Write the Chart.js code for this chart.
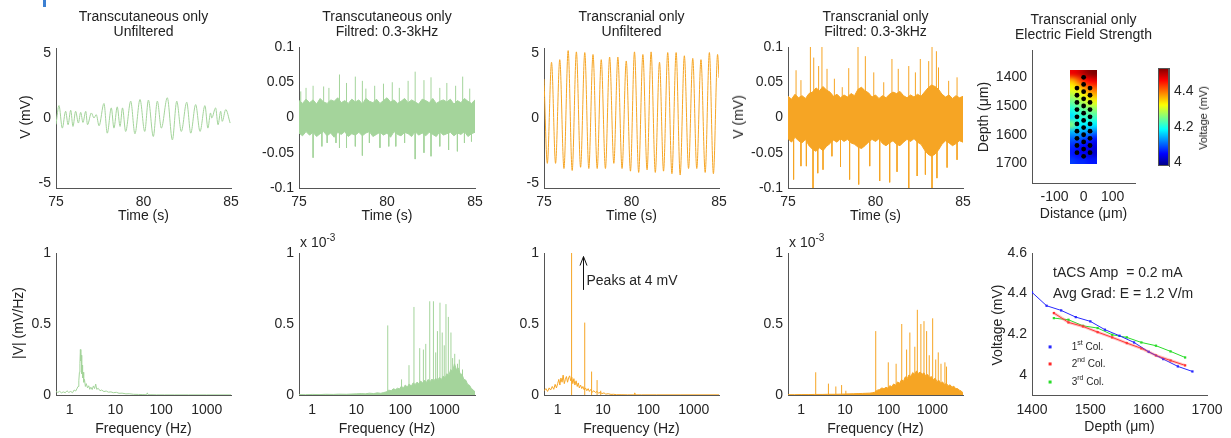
<!DOCTYPE html>
<html>
<head>
<meta charset="utf-8">
<script src="https://cdn.jsdelivr.net/npm/chart.js@4.4.1/dist/chart.umd.min.js"></script>
<style>
  body { margin: 0; background: #fff; width: 1231px; height: 438px; overflow: hidden; position: relative;
         font-family: "Liberation Sans", Arial, sans-serif; }
  canvas.layer { position: absolute; left: 0; top: 0; }
  .t { position: absolute; font-size: 14px; color: #222; white-space: nowrap; line-height: 16px;
       transform: translate(-50%, -50%); text-align: center; }
  .rot { transform: translate(-50%, -50%) rotate(-90deg); }
</style>
</head>
<body>
<div style="position:absolute;left:43px;top:0;width:3px;height:7px;background:#3c80d2"></div>
<script>
// ---------- top row: time series (s, mV) ----------
const tcRawT = [75.0, 75.17, 75.36, 75.55, 75.69, 75.84, 75.97, 76.12, 76.28, 76.41, 76.54, 76.70, 76.80, 77.02, 77.17, 77.30, 77.46, 77.74, 77.93, 78.16, 78.31, 78.50, 78.66, 78.80, 78.98, 79.27, 79.51, 79.80, 80.07, 80.28, 80.56, 80.79, 81.02, 81.36, 81.65, 81.90, 82.16, 82.47, 82.70, 82.98, 83.23, 83.51, 83.68, 83.83, 83.90, 84.12, 84.26, 84.41, 84.50, 84.70, 84.95];
const tcRawV = [-0.5, 0.96, -0.78, 0.52, -0.52, 0.60, -0.65, 0.52, -0.39, 0.44, -0.34, 0.52, -0.52, 0.39, 0.0, 0.26, -0.60, 1.12, -1.17, 0.78, -0.78, 0.86, -0.65, 0.78, -1.04, 1.30, -1.22, 1.43, -1.04, 1.38, -1.43, 1.30, -0.78, 1.56, -1.69, 1.30, -1.04, 1.22, -1.17, 1.04, -1.04, 0.96, -0.78, 0.39, 0.0, 0.78, -0.52, 0.52, -0.26, 0.65, -0.39];

const trRawT = [75.0, 75.19, 75.43, 75.66, 75.90, 76.14, 76.38, 76.61, 76.85, 77.09, 77.33, 77.56, 77.80, 78.04, 78.27, 78.51, 78.75, 78.99, 79.22, 79.46, 79.70, 79.94, 80.17, 80.41, 80.65, 80.89, 81.12, 81.36, 81.60, 81.83, 82.07, 82.31, 82.55, 82.78, 83.02, 83.26, 83.50, 83.73, 83.97, 84.21, 84.45, 84.68, 84.92, 85.0];
const trRawV = [3.0, -3.5, 4.3, -3.5, 4.5, -3.9, 5.2, -4.05, 5.1, -3.8, 5.05, -3.9, 4.9, -3.9, 4.5, -3.9, 4.7, -3.5, 4.7, -3.9, 4.4, -4.1, 5.1, -4.2, 4.9, -4.0, 5.1, -4.2, 4.3, -4.1, 5.05, -4.3, 5.05, -4.4, 4.8, -3.9, 4.6, -3.9, 4.5, -4.2, 5.05, -4.3, 4.9, 3.1];

const bandT = [75, 75.2, 75.4, 75.6, 75.8, 76, 76.2, 76.4, 76.6, 76.8, 77, 77.2, 77.4, 77.6, 77.8, 78, 78.2, 78.4, 78.6, 78.8, 79, 79.2, 79.4, 79.6, 79.8, 80, 80.2, 80.4, 80.6, 80.8, 81, 81.2, 81.4, 81.6, 81.8, 82, 82.2, 82.4, 82.6, 82.8, 83, 83.2, 83.4, 83.6, 83.8, 84, 84.2, 84.4, 84.6, 84.8, 85];

const tcFiltHi = [0.024, 0.02, 0.026, 0.021, 0.025, 0.019, 0.027, 0.022, 0.02, 0.025, 0.023, 0.028, 0.021, 0.024, 0.02, 0.026, 0.022, 0.025, 0.019, 0.027, 0.023, 0.021, 0.026, 0.02, 0.024, 0.028, 0.022, 0.025, 0.02, 0.023, 0.027, 0.021, 0.025, 0.022, 0.019, 0.026, 0.024, 0.021, 0.027, 0.02, 0.023, 0.025, 0.022, 0.026, 0.019, 0.024, 0.021, 0.027, 0.023, 0.02, 0.025];
const tcFiltLo = [-0.022, -0.026, -0.02, -0.025, -0.021, -0.027, -0.023, -0.02, -0.026, -0.022, -0.028, -0.021, -0.024, -0.02, -0.027, -0.023, -0.025, -0.021, -0.026, -0.022, -0.02, -0.027, -0.024, -0.021, -0.025, -0.022, -0.028, -0.02, -0.024, -0.026, -0.021, -0.023, -0.027, -0.02, -0.025, -0.022, -0.026, -0.021, -0.024, -0.027, -0.02, -0.025, -0.023, -0.021, -0.026, -0.022, -0.024, -0.02, -0.027, -0.023, -0.021];
const tcSpikeT = [75.1, 75.4, 75.8, 76.4, 76.7, 77.3, 77.7, 78.2, 78.6, 78.8, 79.3, 79.8, 80.3, 80.7, 81.2, 81.6, 82.1, 82.5, 83.0, 83.4, 83.9, 84.3, 84.7,
                  75.8, 76.3, 76.6, 77.1, 77.3, 77.7, 78.2, 78.6, 79.0, 79.6, 80.1, 80.5, 81.0, 81.6, 82.1, 82.5, 83.0, 83.5, 84.0, 84.4, 84.8];
const tcSpikeV = [0.037, 0.042, 0.045, 0.044, 0.042, 0.061, 0.049, 0.058, 0.052, 0.041, 0.045, 0.048, 0.05, 0.042, 0.052, 0.065, 0.053, 0.057, 0.042, 0.049, 0.045, 0.058, 0.041,
                  -0.057, -0.041, -0.036, -0.036, -0.043, -0.043, -0.041, -0.054, -0.036, -0.043, -0.041, -0.041, -0.036, -0.059, -0.05, -0.055, -0.041, -0.046, -0.048, -0.036, -0.034];

const trFiltHi = [0.03, 0.026, 0.033, 0.028, 0.031, 0.027, 0.034, 0.036, 0.042, 0.038, 0.044, 0.039, 0.036, 0.03, 0.033, 0.028, 0.032, 0.029, 0.034, 0.031, 0.04, 0.043, 0.038, 0.035, 0.029, 0.032, 0.027, 0.031, 0.028, 0.033, 0.036, 0.034, 0.037, 0.031, 0.028, 0.032, 0.029, 0.033, 0.03, 0.036, 0.042, 0.046, 0.044, 0.04, 0.033, 0.029, 0.032, 0.027, 0.031, 0.028, 0.03];
const trFiltLo = [-0.03, -0.035, -0.028, -0.033, -0.036, -0.031, -0.04, -0.045, -0.048, -0.043, -0.047, -0.041, -0.037, -0.032, -0.035, -0.03, -0.034, -0.031, -0.036, -0.038, -0.042, -0.044, -0.04, -0.035, -0.031, -0.034, -0.03, -0.037, -0.04, -0.036, -0.033, -0.038, -0.04, -0.035, -0.031, -0.034, -0.03, -0.035, -0.038, -0.046, -0.052, -0.055, -0.052, -0.046, -0.038, -0.033, -0.036, -0.04, -0.037, -0.033, -0.035];
const trSpikeT = [75.46, 75.74, 76.28, 76.47, 76.75, 76.94, 77.23, 77.65, 78.1, 78.47, 79.0, 79.42, 79.9, 80.47, 80.94, 81.3, 81.9, 82.28, 82.56, 83.04, 83.23, 83.48, 83.6, 84.18, 84.66,
                  75.32, 75.74, 76.05, 76.43, 76.7, 77.0, 77.51, 78.0, 78.52, 79.04, 79.67, 80.24, 80.81, 81.23, 81.9, 82.38, 82.85, 83.23, 83.51, 84.09, 84.66];
const trSpikeV = [0.067, 0.053, 0.1, 0.085, 0.073, 0.1, 0.069, 0.055, 0.043, 0.07, 0.1, 0.087, 0.064, 0.05, 0.083, 0.069, 0.073, 0.064, 0.083, 0.08, 0.1, 0.094, 0.071, 0.052, 0.057,
                  -0.088, -0.069, -0.069, -0.1, -0.079, -0.074, -0.055, -0.07, -0.088, -0.095, -0.069, -0.09, -0.092, -0.077, -0.1, -0.083, -0.081, -0.1, -0.086, -0.071, -0.06];

// ---------- bottom row: spectra (Hz, mV/Hz) ----------
const tcRawF = [0.5, 0.55, 0.6, 0.66, 0.72, 0.8, 0.87, 0.95, 1.05, 1.15, 1.25, 1.35, 1.45, 1.52, 1.58, 1.63, 1.67, 1.71, 1.75, 1.79, 1.83, 1.87, 1.91, 1.96, 2.02, 2.1, 2.2, 2.3, 2.45, 2.6, 2.75, 2.9, 3.1, 3.3, 3.5, 3.7, 3.9, 4.2, 4.6, 5.0, 5.6, 6.3, 7.0, 8.0, 9.0, 10.5, 12, 14, 17, 20, 25, 32, 40, 48, 50, 52, 60, 80, 120, 200, 400, 1000, 3400];
const tcRawA = [0.024, 0.018, 0.026, 0.015, 0.022, 0.016, 0.03, 0.018, 0.025, 0.016, 0.035, 0.028, 0.047, 0.06, 0.1, 0.16, 0.22, 0.32, 0.24, 0.28, 0.15, 0.21, 0.12, 0.16, 0.09, 0.11, 0.06, 0.08, 0.05, 0.065, 0.04, 0.055, 0.038, 0.064, 0.045, 0.077, 0.04, 0.047, 0.03, 0.035, 0.024, 0.028, 0.02, 0.022, 0.016, 0.019, 0.012, 0.013, 0.008, 0.009, 0.005, 0.004, 0.003, 0.002, 0.015, 0.002, 0.002, 0.001, 0.001, 0.001, 0.001, 0.001, 0.001];

const trRawF = [0.5, 0.55, 0.6, 0.65, 0.7, 0.76, 0.82, 0.88, 0.94, 1.0, 1.06, 1.12, 1.18, 1.25, 1.32, 1.4, 1.48, 1.56, 1.65, 1.74, 1.84, 1.94, 2.05, 2.16, 2.28, 2.4, 2.55, 2.7, 2.85, 3.0, 3.2, 3.4, 3.6, 3.85, 4.1, 4.4, 4.7, 5.0, 5.4, 5.8, 6.3, 6.8, 7.4, 8.0, 8.7, 9.5, 10.5, 11.5, 13, 15, 17, 20, 25, 35, 49, 50, 51, 70, 150, 500, 3600];
const trRawA = [0.03, 0.045, 0.025, 0.05, 0.035, 0.06, 0.04, 0.075, 0.05, 0.08, 0.11, 0.07, 0.12, 0.09, 0.14, 0.08, 0.11, 0.13, 0.09, 0.12, 0.135, 0.1, 0.125, 0.08, 0.115, 0.07, 0.1, 0.06, 0.085, 0.05, 0.07, 0.045, 0.06, 0.035, 0.05, 0.03, 0.045, 0.025, 0.04, 0.02, 0.03, 0.018, 0.025, 0.012, 0.02, 0.01, 0.015, 0.006, 0.009, 0.004, 0.005, 0.002, 0.002, 0.001, 0.001, 0.015, 0.001, 0.001, 0.001, 0.001, 0.001];
const trPeakF = [2.03, 3.95, 5.6, 7.4, 8.9];
const trPeakA = [4.0, 0.51, 0.165, 0.105, 0.03];

// filtered spectra, amplitude in units of 1e-3 mV/Hz
const filtF = [0.5, 0.7, 1, 1.5, 2, 3, 4, 6, 8, 10, 13, 16, 20, 25, 30, 36, 42, 48, 55, 62, 70, 78, 87, 96, 106, 118, 130, 145, 160, 178, 197, 218, 240, 265, 292, 322, 355, 392, 432, 477, 526, 580, 640, 706, 779, 859, 948, 1046, 1154, 1273, 1404, 1549, 1709, 1885, 2080, 2295, 2532, 2793, 3081, 3399, 3750, 4137, 4564, 5000];
const tcFiltA = [0.003, 0.002, 0.004, 0.003, 0.005, 0.004, 0.006, 0.005, 0.007, 0.008, 0.01, 0.008, 0.013, 0.01, 0.015, 0.012, 0.017, 0.022, 0.034, 0.03, 0.044, 0.038, 0.048, 0.042, 0.062, 0.05, 0.07, 0.056, 0.078, 0.062, 0.086, 0.074, 0.09, 0.08, 0.098, 0.085, 0.104, 0.088, 0.11, 0.094, 0.112, 0.098, 0.118, 0.102, 0.124, 0.108, 0.134, 0.12, 0.15, 0.135, 0.18, 0.165, 0.22, 0.18, 0.19, 0.15, 0.145, 0.11, 0.105, 0.075, 0.068, 0.045, 0.036, 0.02];
const tcLineF = [52, 107, 158, 205, 277, 336, 380, 468, 568, 700, 800, 900, 1095, 1240, 1420, 1730, 2200, 640, 1000, 1550, 2000, 2600];
const tcLineA = [0.49, 0.11, 0.21, 0.62, 0.33, 0.32, 0.36, 0.66, 0.66, 0.45, 0.65, 0.44, 0.64, 0.55, 0.44, 0.29, 0.25, 0.3, 0.35, 0.26, 0.22, 0.18];
const trFiltA = [0.002, 0.002, 0.003, 0.003, 0.004, 0.004, 0.005, 0.005, 0.006, 0.007, 0.008, 0.009, 0.01, 0.011, 0.012, 0.013, 0.015, 0.02, 0.034, 0.038, 0.05, 0.044, 0.054, 0.048, 0.066, 0.058, 0.078, 0.068, 0.092, 0.082, 0.108, 0.096, 0.128, 0.115, 0.142, 0.13, 0.158, 0.145, 0.17, 0.152, 0.162, 0.146, 0.156, 0.132, 0.145, 0.122, 0.13, 0.108, 0.118, 0.094, 0.104, 0.082, 0.092, 0.072, 0.082, 0.064, 0.072, 0.055, 0.062, 0.045, 0.045, 0.034, 0.028, 0.015];
const trLineF = [2.15, 4.2, 6.2, 8.4, 10.5, 50.6, 98, 148, 199, 257, 305, 396, 452, 545, 642, 737, 846, 1013, 1190, 1360, 1570, 1930, 2100];
const trLineA = [0.16, 0.08, 0.06, 0.07, 0.03, 0.45, 0.23, 0.22, 0.5, 0.32, 0.44, 0.34, 0.6, 0.5, 0.52, 0.45, 0.28, 0.54, 0.25, 0.3, 0.22, 0.23, 0.2];

// ---------- electric field ----------
const depthMid = [1400, 1425, 1450, 1475, 1500, 1525, 1550, 1575, 1600, 1625, 1650, 1675];
const depthSide = [1437.5, 1462.5, 1487.5, 1512.5, 1537.5, 1562.5, 1587.5, 1612.5, 1637.5, 1662.5];
const voltCol1 = [4.406, 4.34, 4.317, 4.284, 4.263, 4.222, 4.192, 4.159, 4.113, 4.077, 4.041, 4.016];
const voltCol2 = [4.304, 4.258, 4.238, 4.21, 4.184, 4.156, 4.13, 4.095, 4.07, 4.046];
const voltCol3 = [4.279, 4.271, 4.241, 4.23, 4.197, 4.184, 4.159, 4.143, 4.115, 4.085];
const elecX = [-23, 0, 22];
const fieldX = [-48, 47];
const fieldY = [1375, 1703];
const fieldGrid = [
  [4.47, 4.48, 4.50, 4.52, 4.53],
  [4.36, 4.40, 4.44, 4.46, 4.47],
  [4.32, 4.34, 4.37, 4.40, 4.41],
  [4.28, 4.30, 4.32, 4.35, 4.36],
  [4.24, 4.26, 4.28, 4.30, 4.31],
  [4.20, 4.22, 4.24, 4.25, 4.26],
  [4.17, 4.20, 4.21, 4.22, 4.22],
  [4.26, 4.19, 4.18, 4.18, 4.18],
  [4.15, 4.15, 4.14, 4.13, 4.12],
  [4.10, 4.10, 4.09, 4.07, 4.06],
  [4.07, 4.06, 4.05, 4.04, 4.03],
  [4.06, 4.05, 4.04, 4.03, 4.02],
  [4.08, 4.07, 4.07, 4.06, 4.06]
];
const cbRange = [3.98, 4.53];

// ---------- ticks ----------
const timeTicks = [75, 80, 85];
const mvTicks = [-5, 0, 5];
const filtTicks = [-0.1, -0.05, 0, 0.05, 0.1];
const freqTicks = [1, 10, 100, 1000];
const ampTicks = [0, 0.5, 1];
const distTicks = [-100, 0, 100];
const depthTicks = [1400, 1500, 1600, 1700];
const cbTicks = [4, 4.2, 4.4];
const voltTicks = [4, 4.2, 4.4, 4.6];

// ---------- helpers ----------
const W = 1231, H = 438, AXW = 40, AXH = 30;
const FAM = '"Liberation Sans", Arial, sans-serif';
const FONT = { family: FAM, size: 14 };
const INK = '#262626', AXIS = '#555';
const GREEN = '#a4d49b', ORANGE = '#f6a524';

function layer() {
  const c = document.createElement('canvas');
  c.width = W; c.height = H; c.className = 'layer';
  document.body.appendChild(c);
  return c;
}

function axis(type, min, max, ticks, extra, pad) {
  return Object.assign({
    type, min, max,
    grid: { display: false, drawTicks: false },
    border: { display: true, color: AXIS, width: 1 },
    ticks: { font: FONT, color: INK, padding: pad || 5, autoSkip: false, maxRotation: 0, callback: v => String(v) },
    afterBuildTicks: s => { s.ticks = ticks.map(v => ({ value: v })); }
  }, extra || {});
}

function series(xs, ys, color, extra) {
  return Object.assign({
    data: xs.map((x, i) => ({ x, y: ys[i] })),
    borderColor: color, backgroundColor: color, borderWidth: 1,
    pointRadius: 0, fill: false
  }, extra || {});
}

// vertical lines from 0 to each value, gaps in between
function spikes(xs, ys, color, extra) {
  const data = [];
  xs.forEach((x, i) => { data.push({ x, y: 0 }, { x, y: ys[i] }, { x, y: null }); });
  return Object.assign({ data, borderColor: color, borderWidth: 1, pointRadius: 0, fill: false, spanGaps: false }, extra || {});
}

function makeChart(rect, datasets, xScale, yScale, plugins, yRight) {
  if (xScale.display !== false) xScale.afterFit = s => { s.height = AXH; };
  yScale.afterFit = s => { s.width = AXW; };
  const padding = {
    left: yRight ? rect.l : rect.l - AXW,
    right: yRight ? W - rect.r - AXW : W - rect.r,
    top: rect.t,
    bottom: xScale.display === false ? H - rect.b : H - rect.b - AXH
  };
  return new Chart(layer(), {
    type: 'line',
    data: { datasets },
    options: {
      responsive: false, animation: false, events: [],
      layout: { padding },
      plugins: { legend: { display: false }, tooltip: { enabled: false } },
      scales: { x: xScale, y: yScale }
    },
    plugins: plugins || []
  });
}

function jet(t) {
  const c = v => Math.round(255 * Math.max(0, Math.min(1, v)));
  return [c(1.5 - Math.abs(4 * t - 3)), c(1.5 - Math.abs(4 * t - 2)), c(1.5 - Math.abs(4 * t - 1))];
}

function label(text, cx, cy, rot, size) {
  const d = document.createElement('div');
  d.className = 't' + (rot ? ' rot' : '');
  d.style.left = cx + 'px'; d.style.top = cy + 'px';
  if (size) d.style.fontSize = size + 'px';
  d.innerHTML = text;
  document.body.appendChild(d);
}

function drawPlugin(id, fn) {
  return { id, afterDatasetsDraw(chart) { const ctx = chart.ctx; ctx.save(); fn(chart, ctx); ctx.restore(); } };
}

const expLabel = drawPlugin('exp', (chart, ctx) => {
  const ca = chart.chartArea;
  ctx.fillStyle = INK;
  ctx.textBaseline = 'alphabetic';
  ctx.font = '14px ' + FAM;
  ctx.fillText('x 10', ca.left + 1, ca.top - 6);
  const w = ctx.measureText('x 10').width;
  ctx.font = '10px ' + FAM;
  ctx.fillText('-3', ca.left + 1 + w, ca.top - 12);
});

// ---------- panels ----------
const top1 = { l: 56, r: 231, t: 48, b: 188 };
const top2 = { l: 299, r: 475, t: 47, b: 188 };
const top3 = { l: 544, r: 719, t: 48, b: 188 };
const top4 = { l: 788, r: 963, t: 47, b: 188 };
const bot1 = { l: 56, r: 231, t: 253, b: 395 };
const bot2 = { l: 299, r: 475, t: 253, b: 395 };
const bot3 = { l: 544, r: 719, t: 253, b: 395 };
const bot4 = { l: 788, r: 963, t: 253, b: 395 };
const fieldRect = { l: 1032, r: 1135, t: 50, b: 183 };
const cbRect = { l: 1158, r: 1169, t: 68, b: 166 };
const gradRect = { l: 1032, r: 1207, t: 253, b: 395 };

makeChart(top1, [series(tcRawT, tcRawV, GREEN, { cubicInterpolationMode: 'monotone' })],
  axis('linear', 75, 85, timeTicks, null, 6), axis('linear', -5.4, 5.4, mvTicks));

makeChart(top2, [
  series(bandT, tcFiltLo, GREEN),
  series(bandT, tcFiltHi, GREEN, { fill: '-1' }),
  spikes(tcSpikeT, tcSpikeV, GREEN)
], axis('linear', 75, 85, timeTicks, null, 6), axis('linear', -0.1, 0.1, filtTicks));

makeChart(top3, [series(trRawT, trRawV, ORANGE, { cubicInterpolationMode: 'monotone' })],
  axis('linear', 75, 85, timeTicks, null, 6), axis('linear', -5.4, 5.4, mvTicks));

makeChart(top4, [
  series(bandT, trFiltLo, ORANGE),
  series(bandT, trFiltHi, ORANGE, { fill: '-1' }),
  spikes(trSpikeT, trSpikeV, ORANGE)
], axis('linear', 75, 85, timeTicks, null, 6), axis('linear', -0.1, 0.1, filtTicks));

// field strength map + colorbar
const fieldPlugin = {
  id: 'field',
  beforeDatasetsDraw(chart) {
    const { ctx, scales: { x, y } } = chart;
    const rows = fieldGrid.length, cols = fieldGrid[0].length;
    const off = document.createElement('canvas');
    off.width = cols; off.height = rows;
    const octx = off.getContext('2d');
    const img = octx.createImageData(cols, rows);
    fieldGrid.forEach((row, r) => row.forEach((v, c) => {
      const rgb = jet((v - cbRange[0]) / (cbRange[1] - cbRange[0]));
      const k = (r * cols + c) * 4;
      img.data[k] = rgb[0]; img.data[k + 1] = rgb[1]; img.data[k + 2] = rgb[2]; img.data[k + 3] = 255;
    }));
    octx.putImageData(img, 0, 0);
    const x0 = x.getPixelForValue(fieldX[0]), x1 = x.getPixelForValue(fieldX[1]);
    const y0 = y.getPixelForValue(fieldY[0]), y1 = y.getPixelForValue(fieldY[1]);
    ctx.save();
    ctx.imageSmoothingEnabled = true;
    ctx.imageSmoothingQuality = 'high';
    ctx.drawImage(off, x0, y0, x1 - x0, y1 - y0);
    ctx.restore();
  }
};

const elecXs = [], elecYs = [];
depthSide.forEach(d => { elecXs.push(elecX[0]); elecYs.push(d); });
depthMid.forEach(d => { elecXs.push(elecX[1]); elecYs.push(d); });
depthSide.forEach(d => { elecXs.push(elecX[2]); elecYs.push(d); });

makeChart(fieldRect, [
  series(elecXs, elecYs, '#000', { showLine: false, pointRadius: 2.4, pointBackgroundColor: '#000', pointBorderWidth: 0 })
], axis('linear', -178, 177, distTicks, null, 6), axis('linear', 1305, 1768, depthTicks, { reverse: true }), [fieldPlugin]);

const cbPlugin = {
  id: 'cbar',
  beforeDatasetsDraw(chart) {
    const { ctx, chartArea: ca } = chart;
    const g = ctx.createLinearGradient(0, ca.bottom, 0, ca.top);
    for (let i = 0; i < 64; i++) {
      const c = jet(i / 63);
      g.addColorStop(i / 63, `rgb(${c[0]},${c[1]},${c[2]})`);
    }
    ctx.save();
    ctx.fillStyle = g;
    ctx.fillRect(ca.left, ca.top, ca.right - ca.left, ca.bottom - ca.top);
    ctx.strokeStyle = AXIS;
    ctx.lineWidth = 1;
    ctx.strokeRect(ca.left + 0.5, ca.top + 0.5, ca.right - ca.left - 1, ca.bottom - ca.top - 1);
    ctx.restore();
  }
};
makeChart(cbRect, [], { type: 'linear', display: false, min: 0, max: 1 },
  axis('linear', cbRange[0], cbRange[1], cbTicks, { position: 'right' }), [cbPlugin], true);

// spectra
makeChart(bot1, [series(tcRawF, tcRawA, GREEN)],
  axis('logarithmic', 0.5, 3400, freqTicks, null, 7), axis('linear', 0, 1, ampTicks));

makeChart(bot2, [
  series(filtF, tcFiltA, GREEN, { fill: 'origin' }),
  spikes(tcLineF, tcLineA, GREEN)
], axis('logarithmic', 0.5, 5000, freqTicks, null, 7), axis('linear', 0, 1, ampTicks), [expLabel]);

const arrowNote = drawPlugin('arrow', (chart, ctx) => {
  const { x, y } = chart.scales;
  const ax = Math.round(x.getPixelForValue(3.55)) + 0.5;
  const y0 = y.getPixelForValue(0.74), y1 = y.getPixelForValue(0.975);
  ctx.strokeStyle = '#111';
  ctx.lineWidth = 1;
  ctx.beginPath();
  ctx.moveTo(ax, y0); ctx.lineTo(ax, y1);
  ctx.moveTo(ax - 3.5, y1 + 9); ctx.lineTo(ax, y1); ctx.lineTo(ax + 3.5, y1 + 9);
  ctx.stroke();
  ctx.fillStyle = INK;
  ctx.font = '14px ' + FAM;
  ctx.textBaseline = 'middle';
  ctx.fillText('Peaks at 4 mV', ax + 3, y.getPixelForValue(0.8));
});
makeChart(bot3, [
  series(trRawF, trRawA, ORANGE),
  spikes(trPeakF, trPeakA, ORANGE)
], axis('logarithmic', 0.5, 3600, freqTicks, null, 7), axis('linear', 0, 1, ampTicks), [arrowNote]);

makeChart(bot4, [
  series(filtF, trFiltA, ORANGE, { fill: 'origin' }),
  spikes(trLineF, trLineA, ORANGE)
], axis('logarithmic', 0.5, 5000, freqTicks, null, 7), axis('linear', 0, 1, ampTicks), [expLabel]);

// voltage vs depth
const BLUE = '#2828ff', RED = '#ff2828', LIME = '#28dc28';
const gradNote = drawPlugin('gradnote', (chart, ctx) => {
  const { x, y } = chart.scales;
  ctx.fillStyle = INK;
  ctx.font = '14px ' + FAM;
  ctx.textBaseline = 'middle';
  ctx.fillText('tACS Amp  = 0.2 mA', x.getPixelForValue(1436), y.getPixelForValue(4.50));
  ctx.fillText('Avg Grad: E = 1.2 V/m', x.getPixelForValue(1436), y.getPixelForValue(4.398));
  const items = [[BLUE, '1', 'st', 4.137], [RED, '2', 'nd', 4.053], [LIME, '3', 'rd', 3.964]];
  items.forEach(([c, n, s, v]) => {
    const py = y.getPixelForValue(v);
    ctx.fillStyle = c;
    ctx.fillRect(x.getPixelForValue(1431) - 1.5, py - 1.5, 3, 3);
    ctx.fillStyle = INK;
    let px = x.getPixelForValue(1468);
    ctx.font = '10px ' + FAM;
    ctx.fillText(n, px, py);
    px += ctx.measureText(n).width;
    ctx.font = '7px ' + FAM;
    ctx.fillText(s, px, py - 4);
    px += ctx.measureText(s).width;
    ctx.font = '10px ' + FAM;
    ctx.fillText(' Col.', px, py);
  });
});
const dot = { pointRadius: 1.6, pointStyle: 'rect', pointBorderWidth: 0 };
makeChart(gradRect, [
  series(depthSide, voltCol2, 'rgba(255,90,90,0.35)', { borderWidth: 3 }),
  series(depthMid, voltCol1, BLUE, Object.assign({ pointBackgroundColor: BLUE }, dot)),
  series(depthSide, voltCol2, RED, Object.assign({ pointBackgroundColor: RED }, dot)),
  series(depthSide, voltCol3, LIME, Object.assign({ pointBackgroundColor: LIME }, dot))
], axis('linear', 1400, 1700, depthTicks, null, 7), axis('linear', 3.9, 4.6, voltTicks), [gradNote]);

// ---------- titles and axis labels ----------
const titles = [
  [143.5, 'Transcutaneous only', 'Unfiltered'],
  [387, 'Transcutaneous only', 'Filtred: 0.3-3kHz'],
  [631.5, 'Transcranial only', 'Unfiltered'],
  [875.5, 'Transcranial only', 'Filtred: 0.3-3kHz']
];
titles.forEach(([cx, a, b]) => {
  label(a, cx, 15.5);
  label(b, cx, 31);
  label('Time (s)', cx, 215);
  label('Frequency (Hz)', cx, 428);
});
label('Transcranial only', 1083.5, 19);
label('Electric Field Strength', 1083.5, 34);
label('Distance (μm)', 1083.5, 213);
label('Depth (μm)', 1119.5, 426);
label('V (mV)', 25, 117, true);
label('V (mV)', 738, 117, true);
label('|V| (mV/Hz)', 18, 323, true);
label('Depth (μm)', 983, 117, true);
label('Voltage (mV)', 997, 325, true);
label('Voltage (mV)', 1203, 118, true, 11);
</script>
</body>
</html>
